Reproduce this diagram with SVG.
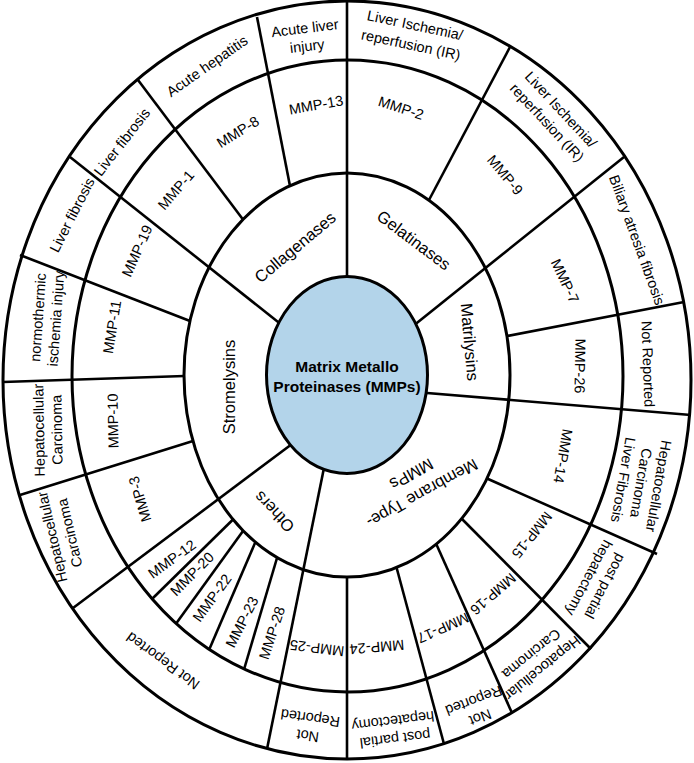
<svg xmlns="http://www.w3.org/2000/svg" width="694" height="763" viewBox="0 0 694 763">
<style>
text{font-family:"Liberation Sans",Arial,sans-serif;font-size:14.5px;text-anchor:middle;fill:#000}
.cat{font-size:16.5px}
.ctr{font-weight:bold;font-size:15.5px}
.ring{fill:none;stroke:#000;stroke-width:3}
#connectors line{stroke:#000;stroke-width:2.6;stroke-linecap:butt}
</style>
<rect width="694" height="763" fill="#fff"/>
<g id="rings">
<ellipse class="ring" cx="347" cy="380" rx="344" ry="379"/>
<ellipse class="ring" cx="347.5" cy="376" rx="275.5" ry="316"/>
<ellipse class="ring" cx="347" cy="375" rx="163" ry="202"/>
</g>
<g id="connectors">
<line x1="347" y1="1" x2="347" y2="290"/>
<line x1="257" y1="17" x2="290" y2="186"/>
<line x1="138" y1="80" x2="243" y2="219.5"/>
<line x1="70" y1="157" x2="290" y2="331.5"/>
<line x1="20" y1="255" x2="190" y2="321"/>
<line x1="3" y1="382" x2="184.5" y2="376"/>
<line x1="20" y1="495" x2="193" y2="441"/>
<line x1="73" y1="608" x2="300" y2="438"/>
<line x1="233" y1="519.5" x2="152" y2="599"/>
<line x1="243" y1="531" x2="176.5" y2="623"/>
<line x1="255" y1="543" x2="209" y2="650"/>
<line x1="277" y1="558" x2="244" y2="669.5"/>
<line x1="267" y1="749" x2="326" y2="458"/>
<line x1="347" y1="577" x2="347" y2="759"/>
<line x1="396.4" y1="567" x2="444" y2="744"/>
<line x1="436" y1="543.5" x2="512" y2="713"/>
<line x1="461" y1="518" x2="591" y2="649"/>
<line x1="487" y1="478.5" x2="657" y2="554"/>
<line x1="415" y1="392" x2="691" y2="415"/>
<line x1="507" y1="336" x2="684" y2="302"/>
<line x1="405" y1="332.4" x2="624" y2="157"/>
<line x1="429" y1="200" x2="510" y2="47"/>
</g>
<g id="center">
<ellipse cx="347" cy="375" rx="80.5" ry="98.5" fill="#b3d4ea" stroke="#000" stroke-width="3"/>
<text class="ctr" x="347" y="372">Matrix Metallo</text>
<text class="ctr" x="347" y="392">Proteinases (MMPs)</text>
</g>
<g id="cat-collagenases"><text class="cat" transform="translate(295,247) rotate(-40)" y="6">Collagenases</text></g>
<g id="cat-gelatinases"><text class="cat" transform="translate(414,240) rotate(37)" y="6">Gelatinases</text></g>
<g id="cat-matrilysins"><text class="cat" transform="translate(470,342) rotate(85)" y="6">Matrilysins</text></g>
<g id="cat-mtmmps"><text class="cat" transform="translate(417,484) rotate(151)"><tspan x="0" y="-5">Membrane Type-</tspan><tspan x="0" y="17">MMPs</tspan></text></g>
<g id="cat-others"><text class="cat" transform="translate(274,512) rotate(226)" y="6">Others</text></g>
<g id="cat-stromelysins"><text class="cat" transform="translate(229,387) rotate(-90)" y="6">Stromelysins</text></g>
<g id="mmp-2"><text transform="translate(401,108) rotate(18)" y="5">MMP-2</text></g>
<g id="mmp-9"><text transform="translate(505,175) rotate(50)" y="5">MMP-9</text></g>
<g id="mmp-7"><text transform="translate(565,281) rotate(65)" y="5">MMP-7</text></g>
<g id="mmp-26"><text transform="translate(580,366) rotate(91)" y="5">MMP-26</text></g>
<g id="mmp-14"><text transform="translate(563,456) rotate(100)" y="5">MMP-14</text></g>
<g id="mmp-15"><text transform="translate(532,535) rotate(129)" y="5">MMP-15</text></g>
<g id="mmp-16"><text transform="translate(493,594) rotate(139)" y="5">MMP-16</text></g>
<g id="mmp-17"><text transform="translate(443,628) rotate(156)" y="5">MMP-17</text></g>
<g id="mmp-24"><text transform="translate(377,647) rotate(175)" y="5">MMP-24</text></g>
<g id="mmp-25"><text transform="translate(317,648) rotate(187)" y="5">MMP-25</text></g>
<g id="mmp-28"><text transform="translate(272,633) rotate(-72)" y="5">MMP-28</text></g>
<g id="mmp-23"><text transform="translate(242,622) rotate(-63)" y="5">MMP-23</text></g>
<g id="mmp-22"><text transform="translate(212,598) rotate(-54)" y="5">MMP-22</text></g>
<g id="mmp-20"><text transform="translate(192,574) rotate(-45)" y="5">MMP-20</text></g>
<g id="mmp-12"><text transform="translate(172,559) rotate(-36)" y="5">MMP-12</text></g>
<g id="mmp-3"><text transform="translate(140,499) rotate(-107)" y="5">MMP-3</text></g>
<g id="mmp-10"><text transform="translate(113,421) rotate(-91)" y="5">MMP-10</text></g>
<g id="mmp-11"><text transform="translate(112,327) rotate(-81)" y="5">MMP-11</text></g>
<g id="mmp-19"><text transform="translate(137,251) rotate(-66)" y="5">MMP-19</text></g>
<g id="mmp-1"><text transform="translate(176,190) rotate(-49)" y="5">MMP-1</text></g>
<g id="mmp-8"><text transform="translate(238,132) rotate(-32)" y="5">MMP-8</text></g>
<g id="mmp-13"><text transform="translate(316,105) rotate(-10)" y="5">MMP-13</text></g>
<g id="d-mmp2"><text transform="translate(413,35) rotate(12)"><tspan x="0" y="-5">Liver Ischemia/</tspan><tspan x="0" y="15">reperfusion (IR)</tspan></text></g>
<g id="d-mmp9"><text transform="translate(554,116) rotate(47)"><tspan x="0" y="-4.5">Liver Ischemia/</tspan><tspan x="0" y="14.5">reperfusion (IR)</tspan></text></g>
<g id="d-mmp7"><text transform="translate(637,240) rotate(70)" y="5">Biliary atresia fibrosis</text></g>
<g id="d-mmp26"><text transform="translate(648,364) rotate(88)" y="5">Not Reported</text></g>
<g id="d-mmp14"><text transform="translate(641,483) rotate(100)"><tspan x="0" y="-13">Hepatocellular</tspan><tspan x="0" y="5">Carcinoma</tspan><tspan x="0" y="23">Liver Fibrosis</tspan></text></g>
<g id="d-mmp15"><text transform="translate(597,582) rotate(118)"><tspan x="0" y="-4">post partial</tspan><tspan x="0" y="14">hepatectomy</tspan></text></g>
<g id="d-mmp16"><text transform="translate(537,661) rotate(141)"><tspan x="0" y="-4">Hepatocellular</tspan><tspan x="0" y="14">Carcinoma</tspan></text></g>
<g id="d-mmp17"><text transform="translate(477,709) rotate(159)"><tspan x="0" y="-4">Not</tspan><tspan x="0" y="14">Reported</tspan></text></g>
<g id="d-mmp24"><text transform="translate(394,730) rotate(173)"><tspan x="0" y="-4">post partial</tspan><tspan x="0" y="14">hepatectomy</tspan></text></g>
<g id="d-mmp25"><text transform="translate(309,727) rotate(188)"><tspan x="0" y="-4">Not</tspan><tspan x="0" y="14">Reported</tspan></text></g>
<g id="d-others"><text transform="translate(163,661) rotate(216)" y="5">Not Reported</text></g>
<g id="d-mmp3"><text transform="translate(61,535) rotate(-103)"><tspan x="0" y="-4">Hepatocellular</tspan><tspan x="0" y="14">Carcinoma</tspan></text></g>
<g id="d-mmp10"><text transform="translate(48,430) rotate(-91)"><tspan x="0" y="-4">Hepatocellular</tspan><tspan x="0" y="14">Carcinoma</tspan></text></g>
<g id="d-mmp11"><text transform="translate(47,318) rotate(-86)"><tspan x="0" y="-4">normothermic</tspan><tspan x="0" y="14">ischemia injury</tspan></text></g>
<g id="d-mmp19"><text transform="translate(72,215) rotate(-63)" y="5">Liver fibrosis</text></g>
<g id="d-mmp1"><text transform="translate(122,142) rotate(-52)" y="5">Liver fibrosis</text></g>
<g id="d-mmp8"><text transform="translate(207,66) rotate(-35)" y="5">Acute hepatitis</text></g>
<g id="d-mmp13"><text transform="translate(306,37) rotate(-7)"><tspan x="0" y="-4">Acute liver</tspan><tspan x="0" y="14">injury</tspan></text></g>
</svg>
